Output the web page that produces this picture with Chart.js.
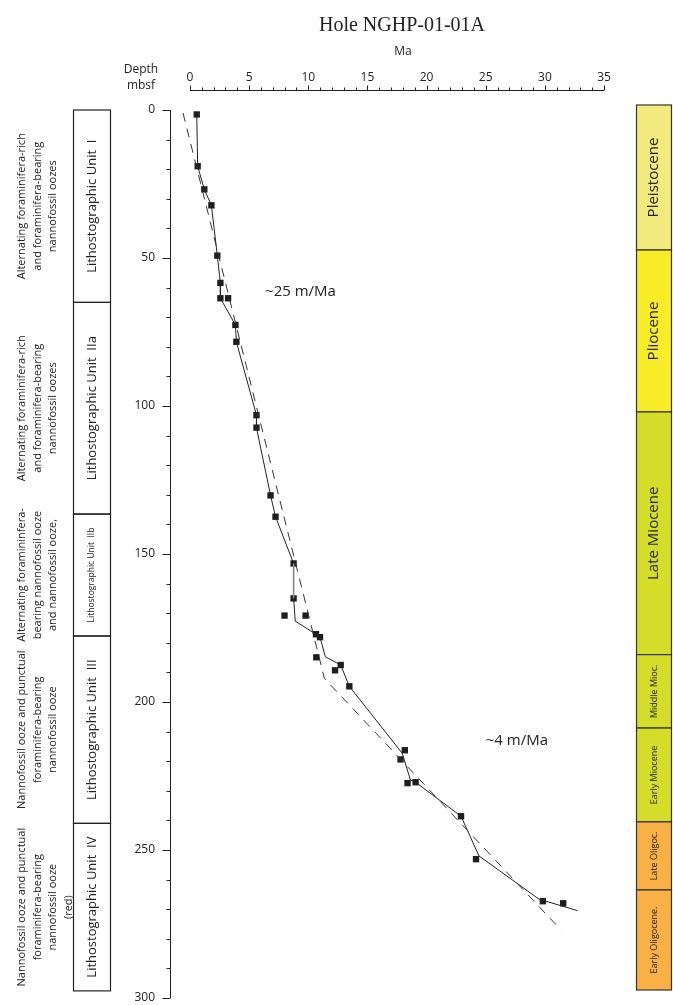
<!DOCTYPE html>
<html>
<head>
<meta charset="utf-8">
<script src="https://cdn.jsdelivr.net/npm/chart.js@4.4.1/dist/chart.umd.min.js"></script>
<style>
  body { margin: 0; background: #fff; }
  #wrap { width: 673px; height: 1005px; }
</style>
</head>
<body>
<div id="wrap"><canvas id="chart" width="673" height="1005"></canvas></div>
<script>
// biostratigraphic datums (age in Ma, depth in mbsf)
let datumAge = [0.57, 0.65, 1.21, 1.81, 2.31, 2.57, 2.57, 3.22, 3.84, 3.92, 5.62, 5.62, 6.81, 7.23, 8.76, 8.76, 7.99, 9.77,
                10.65, 10.99, 10.68, 12.74, 12.26, 13.47, 18.16, 17.8, 18.39, 19.07, 22.91, 24.18, 29.83, 31.55];
let datumDepth = [1.5, 19.0, 26.8, 32.2, 49.2, 58.4, 63.6, 63.6, 72.6, 78.3, 103.1, 107.3, 130.2, 137.4, 153.2, 165.0, 170.8, 170.8,
                  177.1, 178.1, 184.9, 187.5, 189.3, 194.7, 216.3, 219.4, 227.4, 227.1, 238.6, 253.1, 267.3, 268.0];

// age-depth curve through the datums
let curveAge = [0.57, 0.65, 1.21, 1.81, 2.31, 2.57, 2.57, 3.84, 3.92, 5.62, 5.62, 6.81, 7.23, 8.76, 8.76,
                8.9, 10.65, 10.99, 11.44, 12.74, 13.47, 17.94, 18.64, 19.07, 22.91, 24.43, 29.5, 32.77];
let curveDepth = [1.5, 19.0, 26.8, 32.2, 49.2, 58.4, 63.6, 72.6, 78.3, 103.1, 107.3, 130.2, 137.4, 153.2, 165.0,
                  172.7, 177.1, 178.1, 184.7, 187.5, 194.7, 217.3, 226.4, 227.1, 238.6, 252.0, 266.6, 270.5];

// sedimentation rate trend (dashed)
let trendAge = [-0.59, 11.36, 31.36];
let trendDepth = [1.0, 192.0, 277.0];

// lithostratigraphic units
let unitNames = ["Lithostographic Unit  I", "Lithostographic Unit  IIa", "Lithostographic Unit  IIb", "Lithostographic Unit  III", "Lithostographic Unit  IV"];
let unitTop = [0, 65, 136.5, 177.7, 241];
let unitBottom = [65, 136.5, 177.7, 241, 297.6];
let unitDesc = [
    ["Alternating foraminifera-rich", "and foraminifera-bearing", "nannofossil oozes"],
    ["Alternating foraminifera-rich", "and foraminifera-bearing", "nannofossil oozes"],
    ["Alternating foramininfera-", "bearing nannofossil ooze", "and nannofossil ooze,"],
    ["Nannofossil ooze and punctual", "foraminifera-bearing", "nannofossil ooze"],
    ["Nannofossil ooze and punctual", "foraminifera-bearing", "nannofossil ooze", "(red)"]
];

// epochs
let epochNames = ["Pleistocene", "Pliocene", "Late Miocene", "Middle Mioc.", "Early Miocene", "Late Oligoc.", "Early Oligocene."];
let epochTop = [-1.7, 47.3, 102, 184, 208.8, 240.5, 263.5];
let epochBottom = [47.3, 102, 184, 208.8, 240.5, 263.5, 297.3];
let epochColors = ["#f2ea7c", "#f8ec26", "#d5dd28", "#d5dd28", "#d5dd28", "#f9b044", "#f9b044"];

let xTicks = [];
for (let i = 0; i <= 35; i++) xTicks.push(i);
let yTicks = [];
for (let i = 0; i <= 300; i += 10) yTicks.push(i);

function toPoints(xs, ys){
    let pts = [];
    xs.forEach(function(v, i){ pts.push({x: v, y: ys[i]}); });
    return pts;
}

let sans = "'Open Sans', sans-serif";

let decorations = {
    id: "decorations",
    afterDraw: function(chart){
        let ctx = chart.ctx;
        let xs = chart.scales.x;
        let ys = chart.scales.y;
        let area = chart.chartArea;

        ctx.save();
        ctx.strokeStyle = "#222";
        ctx.lineWidth = 1;

        // top axis
        let top = Math.round(area.top) + 0.5;
        ctx.beginPath();
        ctx.moveTo(xs.getPixelForValue(0), top);
        ctx.lineTo(xs.getPixelForValue(35), top);
        xTicks.forEach(function(v){
            let px = Math.round(xs.getPixelForValue(v)) + 0.5;
            ctx.moveTo(px, top);
            ctx.lineTo(px, top - (v % 5 === 0 ? 5 : 3));
        });
        ctx.stroke();

        // left axis
        let left = Math.round(area.left) + 0.5;
        ctx.beginPath();
        ctx.moveTo(left, ys.getPixelForValue(0));
        ctx.lineTo(left, ys.getPixelForValue(300));
        yTicks.forEach(function(v){
            let py = Math.round(ys.getPixelForValue(v)) + 0.5;
            ctx.moveTo(left, py);
            ctx.lineTo(left - (v % 50 === 0 ? 8 : 4), py);
        });
        ctx.stroke();

        // titles
        ctx.fillStyle = "#222";
        ctx.textAlign = "center";
        ctx.textBaseline = "middle";
        ctx.font = "20px 'Liberation Serif', serif";
        ctx.fillText("Hole NGHP-01-01A", 402, 26);
        ctx.font = "12px " + sans;
        ctx.fillText("Ma", 403, 52);
        ctx.fillText("Depth", 141, 70);
        ctx.fillText("mbsf", 141, 86);

        ctx.font = "15px " + sans;
        ctx.textAlign = "left";
        ctx.fillText("~25 m/Ma", xs.getPixelForValue(6.35), ys.getPixelForValue(61.5));
        ctx.fillText("~4 m/Ma", xs.getPixelForValue(25.0), ys.getPixelForValue(213));

        // lithology column
        ctx.lineWidth = 1.2;
        unitNames.forEach(function(name, i){
            let y0 = ys.getPixelForValue(unitTop[i]);
            let y1 = ys.getPixelForValue(unitBottom[i]);
            ctx.strokeRect(73.5, y0, 37, y1 - y0);
            let cy = (y0 + y1) / 2;
            ctx.save();
            ctx.translate(92, cy);
            ctx.rotate(-Math.PI / 2);
            ctx.textAlign = "center";
            ctx.font = (i === 2 ? "8.5px " : "13px ") + sans;
            ctx.fillText(name, 0, 0);
            ctx.restore();

            ctx.save();
            ctx.translate(22, cy);
            ctx.rotate(-Math.PI / 2);
            ctx.textAlign = "center";
            ctx.font = "11px " + sans;
            unitDesc[i].forEach(function(line, j){
                ctx.fillText(line, 0, j * 15.5);
            });
            ctx.restore();
        });

        // epoch column
        epochNames.forEach(function(name, i){
            let y0 = ys.getPixelForValue(epochTop[i]);
            let y1 = ys.getPixelForValue(epochBottom[i]);
            ctx.fillStyle = epochColors[i];
            ctx.fillRect(636, y0, 36, y1 - y0);
            ctx.strokeStyle = "#333";
            ctx.strokeRect(636.5, y0, 35, y1 - y0);
            ctx.save();
            ctx.translate(654, (y0 + y1) / 2);
            ctx.rotate(-Math.PI / 2);
            ctx.fillStyle = "#222";
            ctx.textAlign = "center";
            ctx.font = (i < 3 ? "15px " : "9px ") + sans;
            ctx.fillText(name, 0, 0);
            ctx.restore();
        });

        ctx.restore();
    }
};

new Chart(document.getElementById("chart"), {
    type: "scatter",
    data: {
        datasets: [
            {
                data: toPoints(trendAge, trendDepth),
                showLine: true,
                borderColor: "#333",
                borderWidth: 1,
                borderDash: [9, 7],
                pointRadius: 0
            },
            {
                data: toPoints(curveAge, curveDepth),
                showLine: true,
                borderColor: "#222",
                borderWidth: 1,
                pointRadius: 0,
                segment: {
                    borderColor: function(c){ return c.p0DataIndex === 13 ? "#888" : "#222"; },
                    borderWidth: function(c){ return c.p0DataIndex === 13 ? 1.6 : 1; }
                }
            },
            {
                data: toPoints(datumAge, datumDepth),
                pointStyle: "rect",
                pointRadius: 4.5,
                backgroundColor: "#1e1e1e",
                borderColor: "#1e1e1e",
                borderWidth: 0
            }
        ]
    },
    options: {
        responsive: false,
        animation: false,
        events: [],
        layout: { padding: { right: 53, bottom: 7 } },
        plugins: { legend: { display: false }, tooltip: { enabled: false } },
        scales: {
            x: {
                type: "linear",
                position: "top",
                min: -1.69,
                max: 36.35,
                afterBuildTicks: function(s){ s.ticks = xTicks.map(function(v){ return {value: v}; }); },
                afterFit: function(s){ s.height = 90; s.paddingLeft = 0; s.paddingRight = 0; },
                grid: { display: false, drawTicks: false },
                border: { display: false },
                ticks: {
                    autoSkip: false,
                    maxRotation: 0,
                    padding: 5,
                    color: "#222",
                    font: { family: "'Open Sans', sans-serif", size: 12 },
                    callback: function(v){ return v % 5 === 0 ? v : ""; }
                }
            },
            y: {
                type: "linear",
                reverse: true,
                min: -6.76,
                max: 300,
                afterBuildTicks: function(s){ s.ticks = yTicks.map(function(v){ return {value: v}; }); },
                afterFit: function(s){ s.width = 170; s.paddingTop = 0; s.paddingBottom = 0; },
                grid: { display: false, drawTicks: false },
                border: { display: false },
                ticks: {
                    autoSkip: false,
                    padding: 15,
                    color: "#222",
                    font: { family: "'Open Sans', sans-serif", size: 12 },
                    callback: function(v){ return v % 50 === 0 ? v : ""; }
                }
            }
        }
    },
    plugins: [decorations]
});
</script>
</body>
</html>
